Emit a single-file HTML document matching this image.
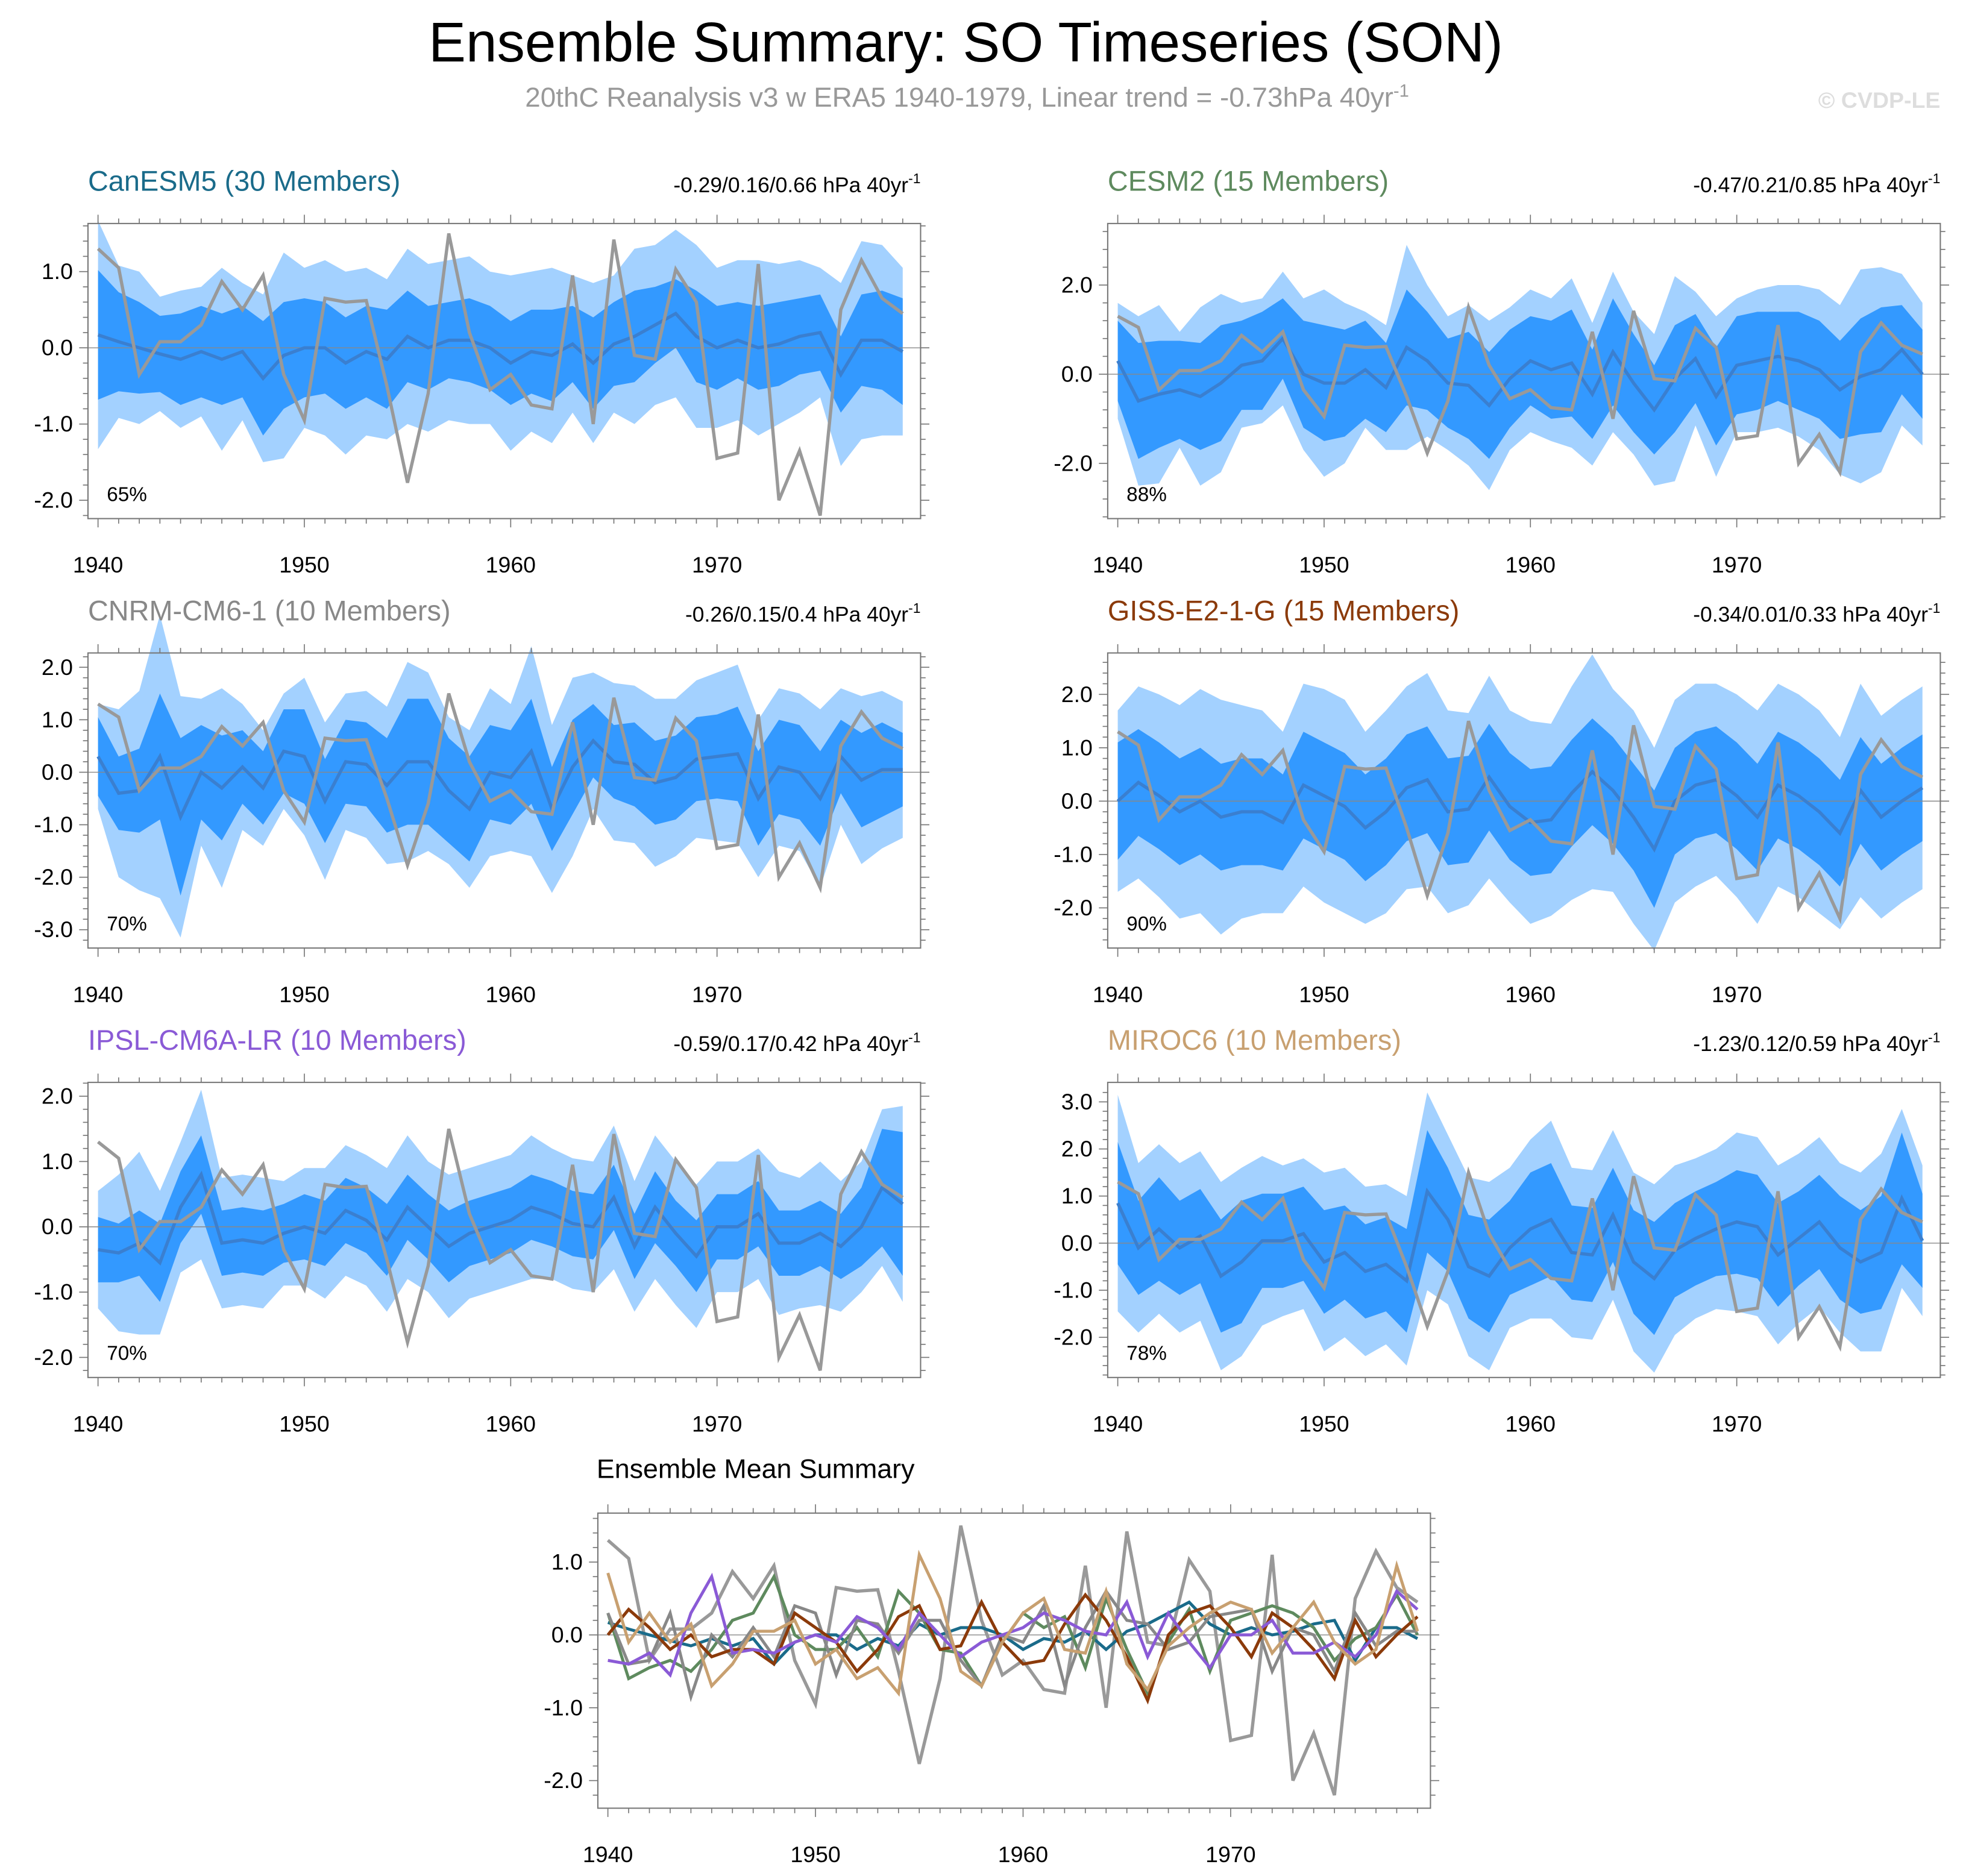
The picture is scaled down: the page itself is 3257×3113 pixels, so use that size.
<!DOCTYPE html>
<html><head><meta charset="utf-8"><style>
html,body{margin:0;padding:0;background:#fff}
svg{display:block;font-family:"Liberation Sans",sans-serif}
</style></head><body>
<svg id="fig" width="3257" height="3113" viewBox="0 0 1563 1494" xmlns="http://www.w3.org/2000/svg">
<rect width="1563" height="1494" fill="#fff"/>
<text x="769" y="49" font-size="44.5" text-anchor="middle">Ensemble Summary: SO Timeseries (SON)</text>
<text x="770" y="85" font-size="22" fill="#999" text-anchor="middle">20thC Reanalysis v3 w ERA5 1940-1979, Linear trend = -0.73hPa 40yr<tspan font-size="14" dy="-8">-1</tspan></text>
<text x="1545" y="86" font-size="18" font-weight="bold" fill="#ddd" text-anchor="end">© CVDP-LE</text>
</svg>
<script>
const years=[1940,1941,1942,1943,1944,1945,1946,1947,1948,1949,1950,1951,1952,1953,1954,1955,1956,1957,1958,1959,1960,1961,1962,1963,1964,1965,1966,1967,1968,1969,1970,1971,1972,1973,1974,1975,1976,1977,1978,1979];
const xTicks=[1940,1950,1960,1970];
const obs=[1.3,1.05,-0.35,0.08,0.08,0.3,0.87,0.5,0.95,-0.35,-0.95,0.65,0.6,0.62,-0.5,-1.77,-0.6,1.5,0.2,-0.55,-0.35,-0.75,-0.8,0.95,-1.0,1.42,-0.1,-0.15,1.03,0.6,-1.45,-1.38,1.1,-2.0,-1.35,-2.2,0.5,1.15,0.65,0.45];
const meanCan=[0.17,0.08,0,-0.08,-0.15,-0.05,-0.15,-0.05,-0.4,-0.1,0,0,-0.2,-0.05,-0.15,0.15,0,0.1,0.1,0,-0.2,-0.05,-0.1,0.05,-0.2,0.05,0.15,0.3,0.45,0.15,0,0.1,0,0.05,0.15,0.2,-0.35,0.1,0.1,-0.05];
const inCan=[0.85,0.65,0.6,0.5,0.6,0.6,0.6,0.6,0.75,0.7,0.65,0.6,0.6,0.6,0.65,0.6,0.55,0.5,0.55,0.55,0.55,0.55,0.6,0.5,0.6,0.55,0.6,0.5,0.45,0.6,0.55,0.5,0.55,0.55,0.5,0.5,0.5,0.6,0.65,0.7];
const outCan=[1.5,1.0,1.0,0.75,0.9,0.85,1.2,0.9,1.1,1.35,1.05,1.15,1.2,1.1,1.05,1.15,1.1,1.05,1.1,1.0,1.15,1.05,1.15,0.9,1.05,0.9,1.15,1.05,1.1,1.2,1.05,1.05,1.15,1.05,1.0,0.85,1.2,1.3,1.25,1.1];
const meanCesm=[0.3,-0.6,-0.45,-0.35,-0.5,-0.2,0.2,0.3,0.8,0,-0.2,-0.2,0.1,-0.3,0.6,0.3,-0.2,-0.25,-0.7,-0.1,0.3,0.1,0.25,-0.45,0.5,-0.2,-0.8,-0.1,0.35,-0.5,0.2,0.3,0.4,0.3,0.1,-0.35,-0.05,0.1,0.55,0];
const inCesm=[0.9,1.3,1.2,1.1,1.2,1.3,1.0,1.1,0.9,1.2,1.3,1.2,1.1,1.0,1.3,1.1,1.0,1.2,1.2,1.1,1.0,1.1,1.2,1.0,1.2,1.1,1.0,1.2,1.0,1.1,1.1,1.1,1.0,1.1,1.1,1.1,1.3,1.4,1.0,1.0];
const outCesm=[1.3,1.9,2.0,1.3,2.0,2.0,1.4,1.4,1.5,1.7,2.1,1.8,1.3,1.4,2.3,1.7,1.5,1.8,1.9,1.6,1.6,1.6,1.9,1.6,1.8,1.6,1.7,2.3,1.5,1.8,1.5,1.6,1.6,1.7,1.8,1.9,2.4,2.3,1.7,1.6];
const meanCnrm=[0.3,-0.4,-0.35,0.3,-0.85,0,-0.3,0.1,-0.3,0.4,0.3,-0.55,0.2,0.15,-0.25,0.2,0.2,-0.35,-0.7,0,-0.1,0.4,-0.7,0.1,0.6,0.2,0.15,-0.2,-0.1,0.25,0.3,0.35,-0.5,0.1,0,-0.5,0.3,-0.15,0.05,0.05];
const inCnrm=[0.75,0.7,0.8,1.2,1.5,0.9,1.0,0.7,0.7,0.8,0.9,0.8,0.8,0.8,0.9,1.2,1.2,1.0,1.0,0.9,0.9,1.0,0.8,0.9,0.7,0.7,0.8,0.8,0.8,0.8,0.8,0.9,0.9,0.9,0.9,0.9,0.7,0.9,0.9,0.7];
const outCnrm=[1.0,1.6,1.9,2.7,2.3,1.4,1.9,1.2,1.1,1.1,1.5,1.5,1.3,1.4,1.5,1.9,1.7,1.4,1.5,1.6,1.4,2.0,1.6,1.7,1.3,1.5,1.5,1.6,1.5,1.5,1.6,1.7,1.5,1.5,1.5,1.7,1.3,1.6,1.5,1.3];
const meanGiss=[0,0.35,0.1,-0.2,0,-0.3,-0.2,-0.2,-0.4,0.3,0.1,-0.1,-0.5,-0.2,0.25,0.4,-0.2,-0.15,0.45,-0.1,-0.4,-0.35,0.15,0.55,0.2,-0.3,-0.9,0,0.3,0.4,0.1,-0.3,0.3,0.1,-0.2,-0.6,0.2,-0.3,0,0.25];
const inGiss=[1.1,1.0,1.0,1.0,1.0,1.0,1.0,1.0,0.9,1.0,1.0,1.0,1.0,1.0,1.0,1.0,1.0,1.0,1.0,1.0,1.0,1.0,1.0,1.0,1.0,1.0,1.1,1.0,1.0,1.0,1.0,1.0,1.0,1.0,1.0,1.0,1.0,1.0,1.0,1.0];
const outGiss=[1.7,1.8,1.9,2.0,2.1,2.2,2.0,1.9,1.7,1.9,2.0,2.0,1.8,1.9,1.9,2.0,1.9,1.8,1.9,1.8,1.9,1.8,2.0,2.2,1.9,2.0,1.9,1.9,1.9,1.8,1.9,2.0,1.9,1.9,1.9,1.8,2.0,1.9,1.9,1.9];
const meanIpsl=[-0.35,-0.4,-0.25,-0.55,0.3,0.8,-0.25,-0.2,-0.25,-0.1,0,-0.1,0.25,0.1,-0.2,0.3,0,-0.3,-0.1,0,0.1,0.3,0.2,0.05,0,0.45,-0.3,0.3,-0.1,-0.45,0,0,0.2,-0.25,-0.25,-0.1,-0.3,0,0.6,0.35];
const inIpsl=[0.5,0.45,0.5,0.6,0.55,0.6,0.5,0.5,0.5,0.45,0.5,0.5,0.5,0.5,0.55,0.5,0.5,0.55,0.5,0.5,0.5,0.5,0.5,0.5,0.5,0.5,0.5,0.55,0.5,0.55,0.5,0.5,0.5,0.5,0.5,0.5,0.5,0.6,0.9,1.1];
const outIpsl=[0.9,1.2,1.4,1.1,1.0,1.3,1.0,1.0,1.0,0.8,0.9,1.0,1.0,1.0,1.1,1.1,1.0,1.1,1.0,1.0,1.0,1.1,1.0,1.0,1.0,1.1,1.0,1.1,1.1,1.1,1.0,1.0,1.0,1.1,1.0,1.1,1.0,1.0,1.2,1.5];
const meanMiroc=[0.85,-0.1,0.3,-0.1,0.15,-0.7,-0.4,0.05,0.05,0.2,-0.4,-0.2,-0.6,-0.45,-0.8,1.1,0.5,-0.5,-0.7,-0.1,0.3,0.5,-0.2,-0.25,0.6,-0.4,-0.75,-0.15,0.1,0.3,0.45,0.35,-0.25,0.1,0.45,-0.1,-0.4,-0.2,0.95,0.05];
const inMiroc=[1.3,1.0,1.1,1.0,1.0,1.2,1.3,1.0,1.0,1.0,1.1,1.0,1.0,1.0,1.1,1.3,1.1,1.1,1.2,1.0,1.2,1.2,1.0,1.0,1.0,1.1,1.2,1.0,1.0,1.0,1.1,1.1,1.1,1.0,1.0,1.1,1.1,1.2,1.4,1.0];
const outMiroc=[2.3,1.8,1.8,1.8,1.8,2.0,2.0,1.8,1.6,1.6,1.9,1.8,1.8,1.7,1.8,2.1,1.8,1.9,2.0,1.7,1.9,2.1,1.8,1.8,1.8,1.9,2.0,1.8,1.7,1.7,1.9,1.9,1.9,1.8,1.8,1.8,1.9,2.1,1.9,1.6];
const SVGNS="http://www.w3.org/2000/svg";
const svg=document.getElementById('fig');
function mk(tag,attrs,parent){const e=document.createElementNS(SVGNS,tag);for(const k in attrs)e.setAttribute(k,attrs[k]);(parent||svg).appendChild(e);return e;}
function fmt(v){return v.toFixed(1);}
const panels=[
 {name:'canesm5',title:'CanESM5 (30 Members)',tc:'#1a6b8a',stat:'-0.29/0.16/0.66 hPa 40yr',pct:'65%',bx:70,by:178,x0:78,y0:277,yu:60.7,ymin:-2.4,ymax:1.7,yt:[1,0,-1,-2],mean:meanCan,sin:inCan,sout:outCan},
 {name:'cesm2',title:'CESM2 (15 Members)',tc:'#5e8a5e',stat:'-0.47/0.21/0.85 hPa 40yr',pct:'88%',bx:882,by:178,x0:890,y0:298,yu:35.5,ymin:-3.2,ymax:3.4,yt:[2,0,-2],mean:meanCesm,sin:inCesm,sout:outCesm},
 {name:'cnrm-cm6-1',title:'CNRM-CM6-1 (10 Members)',tc:'#888',stat:'-0.26/0.15/0.4 hPa 40yr',pct:'70%',bx:70,by:520,x0:78,y0:615,yu:41.8,ymin:-3.3,ymax:2.3,yt:[2,1,0,-1,-2,-3],mean:meanCnrm,sin:inCnrm,sout:outCnrm},
 {name:'giss-e2-1-g',title:'GISS-E2-1-G (15 Members)',tc:'#8b3a0a',stat:'-0.34/0.01/0.33 hPa 40yr',pct:'90%',bx:882,by:520,x0:890,y0:638,yu:42.5,ymin:-2.8,ymax:2.7,yt:[2,1,0,-1,-2],mean:meanGiss,sin:inGiss,sout:outGiss},
 {name:'ipsl-cm6a-lr',title:'IPSL-CM6A-LR (10 Members)',tc:'#8a5ad6',stat:'-0.59/0.17/0.42 hPa 40yr',pct:'70%',bx:70,by:862,x0:78,y0:977,yu:52,ymin:-2.3,ymax:2.2,yt:[2,1,0,-1,-2],mean:meanIpsl,sin:inIpsl,sout:outIpsl},
 {name:'miroc6',title:'MIROC6 (10 Members)',tc:'#c8a070',stat:'-1.23/0.12/0.59 hPa 40yr',pct:'78%',bx:882,by:862,x0:890,y0:990,yu:37.5,ymin:-2.9,ymax:3.3,yt:[3,2,1,0,-1,-2],mean:meanMiroc,sin:inMiroc,sout:outMiroc}
];
const BW=663,BH=235;
function axes(g,p,xs,ys){
  const bx=p.bx,by=p.by;
  const fr=mk('rect',{x:bx,y:by,width:BW,height:BH,fill:'none',stroke:'#777','stroke-width':1},g);
  
  
  for(const y of years){const x=xs(y);const L=(y%10===0)?7:4;
    mk('line',{x1:x,x2:x,y1:by+BH,y2:by+BH+L,stroke:'#777','stroke-width':0.8},g);
    mk('line',{x1:x,x2:x,y1:by,y2:by-L,stroke:'#777','stroke-width':0.8},g);}
  for(const t of xTicks){const tx=mk('text',{x:xs(t),y:by+BH+43,'font-size':18,'text-anchor':'middle'},g);tx.textContent=t;
    
    }
  const step=(p.yt[0]-p.yt[1]);
  for(let v=Math.ceil(p.ymin/(step/5))*(step/5);v<=p.ymax+1e-9;v+=step/5){const y=ys(v);if(y<by||y>by+BH)continue;
    const major=Math.abs(v/step-Math.round(v/step))<1e-6;const L=major?7:4;
    mk('line',{x1:bx,x2:bx-L,y1:y,y2:y,stroke:'#777','stroke-width':0.8},g);
    mk('line',{x1:bx+BW,x2:bx+BW+L,y1:y,y2:y,stroke:'#777','stroke-width':0.8},g);}
  for(const t of p.yt){const tx=mk('text',{x:bx-12,y:ys(t)+6,'font-size':18,'text-anchor':'end'},g);tx.textContent=fmt(t);
    
    }
}
function pathOf(vals,xs,ys){return vals.map((v,i)=>(i?'L':'M')+xs(years[i]).toFixed(2)+','+ys(v).toFixed(2)).join(' ');}
function band(hi,lo,xs,ys){let d='M'+hi.map((v,i)=>xs(years[i]).toFixed(2)+','+ys(v).toFixed(2)).join(' L');
  for(let i=lo.length-1;i>=0;i--)d+=' L'+xs(years[i]).toFixed(2)+','+ys(lo[i]).toFixed(2);return d+'Z';}
for(const p of panels){
  const g=mk('g',{});
  
  
  const xs=y=>p.x0+(y-1940)*16.43, ys=v=>p.y0-v*p.yu;
  const oh=p.mean.map((m,i)=>m+p.sout[i]), ol=p.mean.map((m,i)=>m-p.sout[i]);
  const ih=p.mean.map((m,i)=>m+p.sin[i]), il=p.mean.map((m,i)=>m-p.sin[i]);
  const b1=mk('path',{d:band(oh,ol,xs,ys),fill:'#a3d1ff'},g);
  
  
  const b2=mk('path',{d:band(ih,il,xs,ys),fill:'#3399ff'},g);
  
  
  mk('line',{x1:p.bx,x2:p.bx+BW,y1:ys(0),y2:ys(0),stroke:'#888','stroke-width':0.7},g);
  const m=mk('path',{d:pathOf(p.mean,xs,ys),fill:'none',stroke:'#3a7fd0','stroke-width':2.6},g);
  
  
  const o=mk('path',{d:pathOf(obs,xs,ys),fill:'none',stroke:'#999','stroke-width':2.6},g);
  
  
  axes(g,p,xs,ys);
  const t=mk('text',{x:p.bx,y:p.by-26,'font-size':22.5,fill:p.tc},g);t.textContent=p.title;
  
  
  const s=mk('text',{x:p.bx+BW,y:p.by-25,'font-size':17,'text-anchor':'end'},g);s.textContent=p.stat;
  
  
  const sp=mk('tspan',{'font-size':11,dy:-7},s);sp.textContent='-1';
  const pc=mk('text',{x:p.bx+15,y:p.by+BH-14,'font-size':16},g);pc.textContent=p.pct;
  
  
}
const gb=mk('g',{});


const bp={bx:476,by:1205,ymin:-2.4,ymax:1.7,yt:[1,0,-1,-2]};
const bxs=y=>484+(y-1940)*16.53, bys=v=>1302-v*58;
mk('line',{x1:bp.bx,x2:bp.bx+BW,y1:bys(0),y2:bys(0),stroke:'#888','stroke-width':0.7},gb);
const bo=mk('path',{d:pathOf(obs,bxs,bys),fill:'none',stroke:'#999','stroke-width':2.6},gb);


for(const p of panels){const l=mk('path',{d:pathOf(p.mean,bxs,bys),fill:'none',stroke:p.tc,'stroke-width':2.4},gb);
  
  }
axes(gb,bp,bxs,bys);
const bt=mk('text',{x:475,y:1177,'font-size':21.5},gb);bt.textContent='Ensemble Mean Summary';


</script>
</body></html>
